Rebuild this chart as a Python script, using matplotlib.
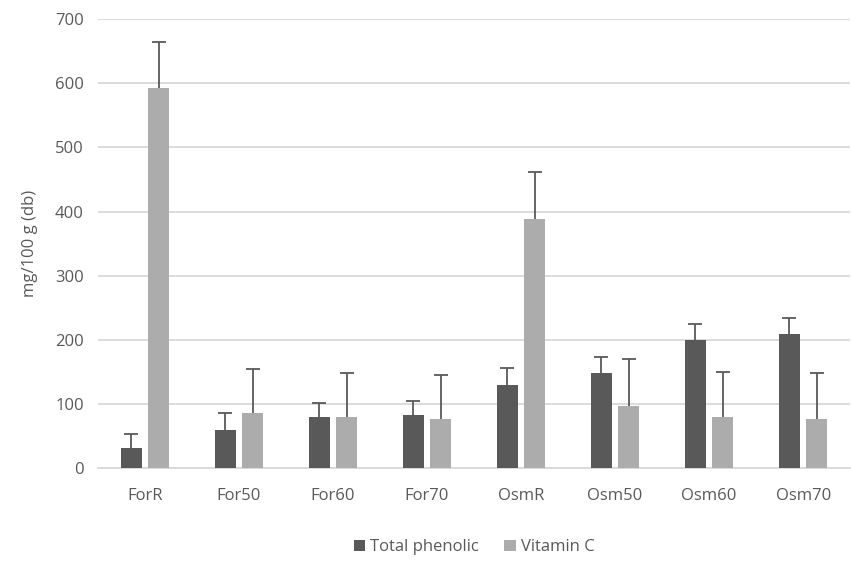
import matplotlib.pyplot as plt
import numpy as np

plt.rcParams['font.family'] = ['Open Sans', 'DejaVu Sans']

categories = ['ForR', 'For50', 'For60', 'For70', 'OsmR', 'Osm50', 'Osm60', 'Osm70']
phenolic     = [31, 59, 79, 83, 129, 149, 200, 209]
phenolic_err = [22, 27, 23, 22, 27, 24, 25, 25]
vitc         = [592, 86, 79, 76, 389, 97, 79, 76]
vitc_err     = [72, 68, 69, 69, 72, 73, 71, 72]

dark  = '#595959'
light = '#acacac'
txt   = '#595959'

fig = plt.figure(figsize=(8.51, 5.66), dpi=100)
ax = fig.add_axes([0.115, 0.173, 0.884, 0.793])

x = np.arange(len(categories))
w = 0.22
off = 0.145
ax.bar(x - off, phenolic, w, color=dark, label='Total phenolic', zorder=3)
ax.bar(x + off, vitc, w, color=light, label='Vitamin C', zorder=3)
for xs, ys, es in [(x - off, phenolic, phenolic_err), (x + off, vitc, vitc_err)]:
    eb = ax.errorbar(xs, ys, yerr=[np.zeros(len(xs)), es], fmt='none',
                     ecolor=dark, elinewidth=1.3, capsize=5, capthick=1.3, zorder=4)
    # only the plus direction gets a cap, like the original
    eb[1][0].set_visible(False)

ax.set_xlim(-0.5, len(x) - 0.5)
ax.set_ylim(0, 700)
ax.set_yticks(range(0, 701, 100))
ax.set_xticks(x)
ax.set_xticklabels(categories)
ax.yaxis.grid(True, color='#d9d9d9', linewidth=1.3, zorder=0)
ax.set_axisbelow(True)
for s in ['top', 'right', 'left']:
    ax.spines[s].set_visible(False)
ax.spines['bottom'].set_color('#d9d9d9')
ax.spines['bottom'].set_linewidth(1.3)
ax.tick_params(axis='both', length=0, labelsize=12, colors=txt, pad=10)
ax.tick_params(axis='x', pad=14)
ax.set_ylabel('mg/100 g (db)', fontsize=12, color=txt, labelpad=12)

ax.legend(loc='upper center', bbox_to_anchor=(0.5, -0.125), ncol=2, frameon=False,
          fontsize=12, labelcolor=txt, handlelength=0.7, handleheight=0.7,
          handletextpad=0.3, columnspacing=1.5)

fig.savefig('out.png', dpi=100)
